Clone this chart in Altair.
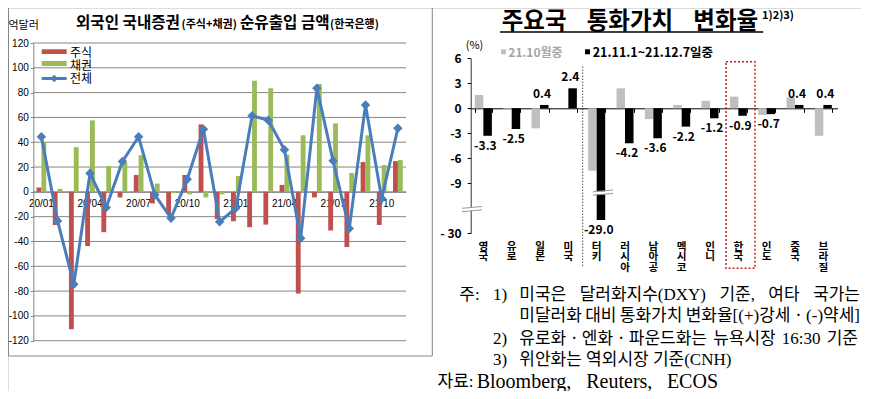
import altair as alt
import pandas as pd

# ---------------- data ----------------
months = ["20/01", "20/02", "20/03", "20/04", "20/05", "20/06", "20/07", "20/08",
          "20/09", "20/10", "20/11", "20/12", "21/01", "21/02", "21/03", "21/04",
          "21/05", "21/06", "21/07", "21/08", "21/09", "21/10", "21/11"]
stock_flow = [3.5, -26.7, -110.7, -43.7, -32.5, -4.5, 13.6, -9.3, -18.0, 13.6, 54.4, -22.0,
              -23.7, -28.5, -26.4, 5.6, -82.0, -4.5, -31.2, -44.5, 24.0, -26.7, 24.8]
bond_flow = [40.0, 2.4, 36.0, 57.6, 20.8, 23.5, 29.6, 6.7, -1.0, -2.0, -4.5, -2.0,
             12.8, 89.6, 83.5, 30.0, 45.6, 87.0, 55.2, 15.2, 45.6, 21.6, 25.6]
total_flow = [44.4, -23.4, -74.5, 15.0, -12.6, 24.5, 44.4, -2.4, -21.2, 10.2, 50.5, -24.2,
              -13.0, 61.3, 57.8, 33.9, -37.4, 83.6, 25.0, -29.6, 70.0, -5.4, 51.3]
left_series = ["주식", "채권", "전체"]
left_ticks = [-120, -100, -80, -60, -40, -20, 0, 20, 40, 60, 80, 100, 120]
month_labels = ["20/01", "20/04", "20/07", "20/10", "21/01", "21/04", "21/07", "21/10"]

countries = ["영국", "유로", "일본", "미국", "터키", "러시아", "남아공", "멕시코",
             "인니", "한국", "인도", "중국", "브라질"]
oct_change = [1.6, -0.1, -2.4, 0.0, -7.5, 2.4, -1.3, 0.4, 0.9, 1.4, -0.8, 1.3, -3.3]
recent_change = [-3.3, -2.5, 0.4, 2.4, -29.0, -4.2, -3.6, -2.2, -1.2, -0.9, -0.7, 0.4, 0.4]
periods = ["21.10월중", "21.11.1~21.12.7일중"]
right_ticks = [6, 3, 0, -3, -6, -9, -30]

note_lines = [
    ("주:", "1)", ["미국은", "달러화지수(DXY)", "기준,", "여타", "국가는"]),
    ("", "", ["미달러화", "대비", "통화가치", "변화율[(+)강세ㆍ(-)약세]"]),
    ("", "2)", ["유로화ㆍ엔화ㆍ파운드화는", "뉴욕시장", "16:30", "기준"]),
    ("", "3)", ["위안화는 역외시장 기준(CNH)"]),
]
source_label = "자료:"
source_words = ["Bloomberg,", "Reuters,", "ECOS"]

# ---------------- layout helpers ----------------
W, H, M = 853, 383, 8


def p(v):
    return v - M


KF = "Noto Sans CJK KR"
LAT = "Liberation Sans"
SERIF = "Liberation Serif, Noto Sans CJK KR"
RED, GREEN, BLUE = "#C0504D", "#9BBB59", "#4A7EBB"
GRID = "#868686"

one = pd.DataFrame({"k": [0]})


def text(s, x, y, size=12, weight="normal", color="black", align="left",
         baseline="middle", font=KF):
    return alt.Chart(one).mark_text(
        text=s, align=align, baseline=baseline, fontSize=size, fontWeight=weight,
        color=color, font=font
    ).encode(x=alt.value(x), y=alt.value(y))


def rule(x1, y1, x2, y2, color="black", width=1.0, dash=None):
    kw = dict(color=color, strokeWidth=width)
    if dash:
        kw["strokeDash"] = dash
    return alt.Chart(one).mark_rule(**kw).encode(
        x=alt.value(x1), y=alt.value(y1), x2=alt.value(x2), y2=alt.value(y2))


def box(x1, y1, x2, y2, fill="white", stroke=None, dash=None, width=1.0):
    kw = dict(fill=fill)
    if fill is None:
        kw = dict(fillOpacity=0)
    if stroke:
        kw.update(stroke=stroke, strokeWidth=width)
    if dash:
        kw["strokeDash"] = dash
    return alt.Chart(one).mark_rect(**kw).encode(
        x=alt.value(x1), y=alt.value(y1), x2=alt.value(x2), y2=alt.value(y2))


# approximate advance widths (em): Hangul in Noto Sans CJK, latin in Liberation Serif
SERIF_W = {"(": .333, ")": .333, "[": .333, "]": .333, "+": .564, "-": .333, "·": .25,
           ",": .25, ":": .278, " ": .25, ".": .25, "D": .722, "X": .722, "Y": .722,
           "C": .667, "N": .722, "H": .722, "B": .667, "l": .278, "o": .5, "m": .778,
           "b": .5, "e": .444, "r": .333, "g": .5, "R": .667, "u": .5, "t": .278,
           "s": .389, "E": .611, "O": .722, "S": .556}


def est_width(s, size):
    w = 0.0
    for ch in s:
        if "\uac00" <= ch <= "\ud7a3" or ch == "ㆍ":
            w += 0.92
        elif ch.isdigit():
            w += 0.5
        else:
            w += SERIF_W.get(ch, 0.5)
    return w * size


def justified(words, x0, x1, y, size):
    if len(words) == 1:
        return [text(words[0], x0, y, size=size, font=SERIF)]
    widths = [est_width(w, size) for w in words]
    gap = (x1 - x0 - sum(widths)) / (len(words) - 1)
    out, x = [], x0
    for w, wd in zip(words, widths):
        out.append(text(w, x, y, size=size, font=SERIF))
        x += wd + gap
    return out


# ---------------- left chart ----------------
yL_range = [p(340.7), p(43.0)]
yL0 = (yL_range[0] + yL_range[1]) / 2
xL_scale = alt.Scale(domain=months, range=[p(33.3), p(406.0)], paddingInner=0.4, paddingOuter=0.2)
yL_scale = alt.Scale(domain=[-120, 120], range=yL_range, nice=False)
yL_axis = alt.Axis(orient="left", offset=-p(33.3), values=left_ticks,
                   labelExpr="'' + datum.value", labelFont=LAT, labelFontSize=10,
                   labelColor="black", labelPadding=2, tickSize=3, tickColor=GRID,
                   domainColor=GRID, grid=False, title=None)
xL_axis = alt.Axis(orient="bottom", offset=yL0 - H, values=month_labels, labelAngle=0,
                   labelFont=LAT, labelFontSize=10, labelColor="black", labelPadding=7,
                   ticks=False, domainColor=GRID, grid=False, title=None)

bars_df = pd.DataFrame({
    "month": months * 2,
    "series": [left_series[0]] * len(months) + [left_series[1]] * len(months),
    "value": stock_flow + bond_flow,
})
line_df = pd.DataFrame({"month": months, "value": total_flow})
grid_df = pd.DataFrame({"v": left_ticks})

grid_L = alt.Chart(grid_df).mark_rule(color=GRID, strokeWidth=1).encode(
    y=alt.Y("v:Q", scale=yL_scale, axis=yL_axis),
    x=alt.value(p(33.3)), x2=alt.value(p(406.0)))
bars_L = alt.Chart(bars_df).mark_bar().encode(
    x=alt.X("month:N", scale=xL_scale, axis=xL_axis),
    xOffset=alt.XOffset("series:N", scale=alt.Scale(domain=left_series[:2])),
    y=alt.Y("value:Q", scale=yL_scale, axis=yL_axis, stack=None),
    color=alt.Color("series:N", scale=alt.Scale(domain=left_series[:2], range=[RED, GREEN]),
                    legend=None))
line_L = alt.Chart(line_df).mark_line(
    color=BLUE, strokeWidth=3,
    point=alt.OverlayMarkDef(shape="diamond", filled=True, size=90, color=BLUE)
).encode(
    x=alt.X("month:N", scale=xL_scale, axis=xL_axis),
    y=alt.Y("value:Q", scale=yL_scale, axis=yL_axis))

left_group = alt.layer(grid_L, bars_L, line_L)

left_border = [
    rule(0.5, 0, 0.5, p(356), GRID),
    rule(p(432.3), 0, p(432.3), p(356), GRID),
    rule(0.5, p(356), p(432.3), p(356), GRID),
]
left_deco = [
    text("억달러", 0.5, p(26), size=11),
    text("외국인 국내증권", p(76), p(28), size=15.6, weight="bold", baseline="alphabetic"),
    text("(주식+채권)", p(181.5), p(28), size=11, weight="bold", baseline="alphabetic"),
    text("순유출입 금액", p(240), p(28), size=15.6, weight="bold", baseline="alphabetic"),
    text("(한국은행)", p(330), p(28), size=11, weight="bold", baseline="alphabetic"),
    box(p(41.7), p(49.3), p(66.7), p(54), fill=RED),
    box(p(41.7), p(61), p(66.7), p(66), fill=GREEN),
    rule(p(41.7), p(78.5), p(66.7), p(78.5), BLUE, 3),
    alt.Chart(one).mark_point(shape="diamond", filled=True, size=60, color=BLUE, opacity=1).encode(
        x=alt.value(p(54.2)), y=alt.value(p(78.5))),
    text(left_series[0], p(70), p(53), size=12),
    text(left_series[1], p(70), p(65.5), size=12),
    text(left_series[2], p(70), p(79), size=12),
]

# ---------------- right chart ----------------
xR_scale = alt.Scale(domain=countries, range=[p(469.2), p(837.5)], paddingInner=0.4, paddingOuter=0.2)
yR_scale = alt.Scale(domain=[-30, -29, -10, 6],
                     range=[p(233.3), p(220.0), p(191.6), p(58.3)], nice=False)
yR0 = p(108.3)
xR_axis = alt.Axis(orient="bottom", offset=yR0 - H, labels=False, tickBand="extent",
                   tickSize=4, tickColor="black", domainColor="black", grid=False, title=None)
yR_axis = alt.Axis(orient="left", offset=-p(470.7), values=right_ticks,
                   labelExpr="datum.value == -30 ? '- 30' : '' + datum.value",
                   labelFont=KF, labelFontSize=12, labelFontWeight="bold", labelColor="black",
                   labelPadding=6, tickSize=3.5, tickColor="black", domainColor="#333333",
                   grid=False, title=None)

right_df = pd.DataFrame({
    "country": countries * 2,
    "period": [periods[0]] * len(countries) + [periods[1]] * len(countries),
    "value": oct_change + recent_change,
})
label_df = pd.DataFrame({
    "country": countries,
    "value": recent_change,
    "label": [f"{v:.1f}" for v in recent_change],
})
country_df = pd.DataFrame({"country": countries,
                           "stack": ["\n".join(list(c)) for c in countries]})

bars_R = alt.Chart(right_df).mark_bar().encode(
    x=alt.X("country:N", scale=xR_scale, axis=xR_axis),
    xOffset=alt.XOffset("period:N", scale=alt.Scale(domain=periods)),
    y=alt.Y("value:Q", scale=yR_scale, axis=yR_axis, stack=None),
    color=alt.Color("period:N", scale=alt.Scale(domain=periods, range=["#BFBFBF", "#000000"]),
                    legend=None))
lab_neg = alt.Chart(label_df).transform_filter("datum.value < 0").mark_text(
    baseline="top", dy=5, dx=2, fontSize=12, fontWeight="bold", font=KF, color="black"
).encode(
    x=alt.X("country:N", scale=xR_scale, axis=xR_axis),
    y=alt.Y("value:Q", scale=yR_scale, axis=yR_axis),
    text="label:N")
lab_pos = alt.Chart(label_df).transform_filter("datum.value >= 0").mark_text(
    baseline="bottom", dy=-4, dx=2, fontSize=12, fontWeight="bold", font=KF, color="black"
).encode(
    x=alt.X("country:N", scale=xR_scale, axis=xR_axis),
    y=alt.Y("value:Q", scale=yR_scale, axis=yR_axis),
    text="label:N")
names_R = alt.Chart(country_df).mark_text(
    baseline="top", align="center", lineBreak="\n", lineHeight=10.8, fontSize=10.6,
    fontWeight="bold", font=KF, color="black"
).encode(
    x=alt.X("country:N", scale=xR_scale, axis=xR_axis),
    y=alt.value(p(241.5)),
    text="stack:N")

right_group = alt.layer(bars_R, lab_neg, lab_pos, names_R)

right_deco = [
    # title
    text("주요국", p(501.7), p(21.5), size=23.5, weight="bold"),
    text("통화가치", p(586.7), p(21.5), size=23.5, weight="bold"),
    text("변화율", p(693.3), p(21.5), size=23.5, weight="bold"),
    text("1)2)3)", p(762), p(16), size=11, weight="bold"),
    rule(p(500), p(32), p(763.3), p(32), "black", 1.5),
    # legend
    text("(%)", p(474.5), p(46.3), size=11, align="center"),
    box(p(501), p(49.3), p(506), p(54.3), fill="#BFBFBF"),
    text(periods[0], p(508.3), p(53), size=12, weight="bold", color="#A6A6A6"),
    box(p(585), p(49.3), p(590), p(54.3), fill="black"),
    text(periods[1], p(592.7), p(53), size=12.5, weight="bold"),
    # separator & highlight box
    rule(p(582.7), p(66.7), p(582.7), p(266.7), "black", 1, [1, 2]),
    box(p(726), p(61.7), p(755), p(268.3), fill=None, stroke="#D02020", dash=[2, 2], width=1.5),
    # axis break
    box(p(462), p(207.8), p(482), p(210.2), fill="white"),
    rule(p(462), p(208.3), p(482), p(206.5), "#999999", 1),
    rule(p(462), p(211.7), p(482), p(209.9), "#999999", 1),
    # bar break (Turkey)
    box(p(593), p(191.3), p(613), p(194.2), fill="white"),
    rule(p(593), p(191.8), p(613), p(190.0), "#999999", 1),
    rule(p(593), p(195.2), p(613), p(193.4), "#999999", 1),
]

FS = 17
note_ys = [p(294.5), p(316), p(338.5), p(360)]
note_ends = [860, 860, 858, None]
for (a, b, words), y, x_end in zip(note_lines, note_ys, note_ends):
    if a:
        right_deco.append(text(a, p(459.3), y, size=FS, font=SERIF))
    if b:
        right_deco.append(text(b, p(493), y, size=FS, font=SERIF))
    if x_end is None:
        right_deco.append(text(words[0], p(519.3), y, size=FS, font=SERIF))
    else:
        right_deco.extend(justified(words, p(519.3), p(x_end), y, FS))
right_deco.append(text(source_label, p(437.5), p(382), size=FS, font=SERIF))
right_deco.extend(justified(source_words, p(476.7), p(718), p(382), 20))

chart = alt.layer(
    *left_border, left_group, *left_deco, right_group, *right_deco
).resolve_scale(
    x="independent", y="independent", color="independent", xOffset="independent"
).resolve_axis(
    x="independent", y="independent"
).properties(
    width=W, height=H, autosize=alt.AutoSizeParams(type="none"), padding=0
).configure_view(stroke=None).configure(background="white")

chart.save("out.html", embed_options={"renderer": "svg", "actions": False})
